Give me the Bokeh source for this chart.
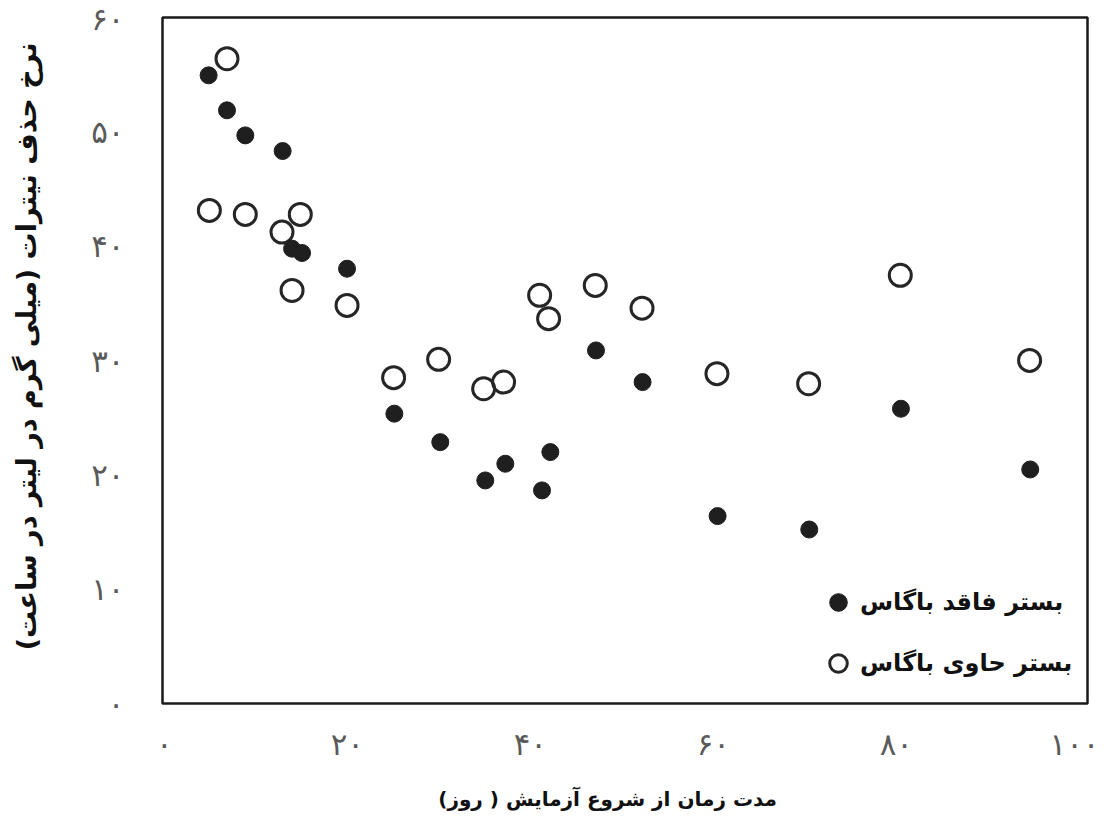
from bokeh.plotting import figure
from bokeh.models import FixedTicker, Range1d, Legend, LegendItem
from bokeh.embed import file_html
from bokeh.resources import INLINE

# Data (days since start of test, nitrate removal rate mg/L/h)
days_without = [4.84, 6.85, 8.85, 12.93, 13.96, 15.05, 19.97, 25.14, 30.16, 35.08,
                37.27, 41.28, 42.19, 47.18, 52.27, 60.47, 70.49, 80.51, 94.64]
rate_without = [54.94, 51.88, 49.69, 48.32, 39.78, 39.40, 38.03, 25.35, 22.86, 19.51,
                20.97, 18.64, 21.99, 30.88, 28.11, 16.39, 15.22, 25.78, 20.47]
days_with = [6.85, 4.92, 8.85, 14.86, 12.86, 13.96, 19.97, 25.06, 29.98, 34.90,
             37.08, 41.02, 42.00, 47.10, 52.21, 60.40, 70.42, 80.44, 94.57]
rate_with = [56.40, 43.13, 42.78, 42.78, 41.23, 36.13, 34.82, 28.50, 30.10, 27.53,
             28.11, 35.70, 33.66, 36.57, 34.58, 28.85, 27.97, 37.45, 30.01]

x_ticks = [0, 20, 40, 60, 80, 100]
x_tick_labels = ["۰", "۲۰", "۴۰", "۶۰", "۸۰", "۱۰۰"]
y_ticks = [0, 10, 20, 30, 40, 50, 60]
y_tick_labels = ["۰", "۱۰", "۲۰", "۳۰", "۴۰", "۵۰", "۶۰"]

label_without = "بستر فاقد باگاس"
label_with = "بستر حاوی باگاس"
NB = "\u00a0"
RLM = "\u200f"
x_title = "مدت زمان از شروع آزمایش ( روز)" + RLM + NB * 5
y_title = NB * 3 + "نرخ حذف نیترات (میلی گرم در لیتر در ساعت)" + RLM

FONT = "DejaVu Sans"

p = figure(frame_width=925, frame_height=686,
           x_range=Range1d(-0.2, 100.9), y_range=Range1d(0, 60),
           output_backend="svg", toolbar_location=None,
           min_border_left=162, min_border_top=17, min_border_right=12,
           min_border_bottom=20)

p.outline_line_color = "#1a1a1a"
p.outline_line_width = 2.5
p.xgrid.visible = False
p.ygrid.visible = False
p.background_fill_color = "white"
p.border_fill_color = "white"

for ax in (p.xaxis[0], p.yaxis[0]):
    ax.axis_line_color = None
    ax.major_tick_line_color = None
    ax.minor_tick_line_color = None
    ax.major_tick_out = 0
    ax.major_tick_in = 0
    ax.minor_tick_out = 0
    ax.minor_tick_in = 0
    ax.major_label_text_font = FONT
    ax.major_label_text_font_size = "31px"
    ax.major_label_text_color = "#5a5a5a"
    ax.axis_label_text_font = FONT
    ax.axis_label_text_font_style = "bold"
    ax.axis_label_text_color = "#111111"

p.xaxis[0].ticker = FixedTicker(ticks=x_ticks)
p.xaxis[0].major_label_overrides = dict(zip(x_ticks, x_tick_labels))
p.xaxis[0].major_label_standoff = 22
p.xaxis[0].axis_label = x_title
p.xaxis[0].axis_label_text_font_size = "20px"
p.xaxis[0].axis_label_standoff = 22

p.yaxis[0].ticker = FixedTicker(ticks=y_ticks)
p.yaxis[0].major_label_overrides = dict(zip(y_ticks, y_tick_labels))
p.yaxis[0].major_label_standoff = 38
p.yaxis[0].axis_label = y_title
p.yaxis[0].axis_label_text_font_size = "27px"
p.yaxis[0].axis_label_standoff = 46

r_with = p.scatter(days_with, rate_with, marker="circle", size=22,
                   fill_color="white", fill_alpha=0.0,
                   line_color="#262626", line_width=3)
r_without = p.scatter(days_without, rate_without, marker="circle", size=17,
                      fill_color="#1f1f1f", line_color="#1f1f1f")

legend = Legend(items=[LegendItem(label=label_without, renderers=[r_without]),
                       LegendItem(label=label_with, renderers=[r_with])],
                location=(654, 18), border_line_color=None,
                background_fill_alpha=0.0,
                label_text_font=FONT, label_text_font_size="24px",
                label_text_font_style="bold", label_text_color="#111111",
                glyph_width=44, glyph_height=44, label_height=44,
                spacing=17, padding=0, margin=0, label_standoff=-8)
p.add_layout(legend, "center")

open("out.html", "w").write(file_html(p, INLINE))
